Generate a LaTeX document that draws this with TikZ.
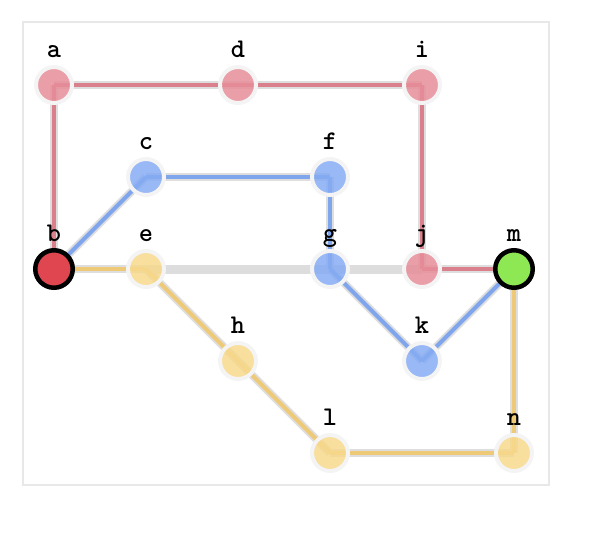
\documentclass[tikz,border=0pt]{standalone}
\usepackage{fontspec}
\definecolor{rednode}{HTML}{E68E99}
\definecolor{bluenode}{HTML}{86ACF4}
\definecolor{yellownode}{HTML}{F8D98C}
\definecolor{rededge}{HTML}{D9808C}
\definecolor{blueedge}{HTML}{7FA5EC}
\definecolor{yellowedge}{HTML}{EDC978}
\definecolor{grayedge}{HTML}{DDDDDD}
\definecolor{outl}{HTML}{D6D6D6}
\definecolor{ring}{HTML}{F4F4F4}
\definecolor{frame}{HTML}{E8E8E8}
\definecolor{bred}{HTML}{E0464F}
\definecolor{bgreen}{HTML}{8EE853}
\tikzset{
  vtx/.style={circle, minimum size=36pt, inner sep=0pt, draw=ring, line width=4pt},
  rv/.style={vtx, fill=rednode},
  bv/.style={vtx, fill=bluenode},
  yv/.style={vtx, fill=yellownode},
  endv/.style={circle, minimum size=37.5pt, inner sep=0pt, draw=black, line width=4.5pt},
  lab/.style={font=\ttfamily\bfseries\fontsize{27}{27}\selectfont, anchor=base},
  outline/.style={draw=outl, line width=8pt},
  redl/.style={draw=rededge, line width=4pt},
  bluel/.style={draw=blueedge, line width=4pt},
  yell/.style={draw=yellowedge, line width=4pt},
  grayl/.style={draw=grayedge, line width=9pt},
}
\begin{document}
\begin{tikzpicture}[x=1pt,y=-1pt]
\useasboundingbox (0,0) rectangle (612,552);
\draw[draw=frame, line width=1.5pt] (23,22) rectangle (549,485);
% coordinates
\coordinate (pa) at (54,85);
\coordinate (pd) at (238,85);
\coordinate (pi) at (422,85);
\coordinate (pc) at (146,177);
\coordinate (pf) at (330,177);
\coordinate (pb) at (54,269);
\coordinate (pe) at (146,269);
\coordinate (pg) at (330,269);
\coordinate (pj) at (422,269);
\coordinate (pm) at (514,269);
\coordinate (ph) at (238,361);
\coordinate (pk) at (422,361);
\coordinate (pl) at (330,453);
\coordinate (pn) at (514,453);
% gray edges
\draw[grayl] (pe) -- (pg);
\draw[grayl] (pg) -- (pj);
% outlines
\foreach \u/\v in {pa/pd,pd/pi,pa/pb,pi/pj,pj/pm,pb/pc,pc/pf,pf/pg,pg/pk,pk/pm,pb/pe,pe/ph,ph/pl,pl/pn,pn/pm}
  \draw[outline, opacity=0.8] (\u) -- (\v);
% colored
\foreach \u/\v in {pa/pd,pd/pi,pa/pb,pi/pj,pj/pm}
  \draw[redl] (\u) -- (\v);
\foreach \u/\v in {pb/pc,pc/pf,pf/pg,pg/pk,pk/pm}
  \draw[bluel] (\u) -- (\v);
\foreach \u/\v in {pb/pe,pe/ph,ph/pl,pl/pn,pn/pm}
  \draw[yell] (\u) -- (\v);
% nodes
\node[rv, fill opacity=0.85] (a) at (pa) {};
\node[rv, fill opacity=0.85] (d) at (pd) {};
\node[rv, fill opacity=0.85] (i) at (pi) {};
\node[rv, fill opacity=0.85] (j) at (pj) {};
\node[bv, fill opacity=0.85] (c) at (pc) {};
\node[bv, fill opacity=0.85] (f) at (pf) {};
\node[bv, fill opacity=0.85] (g) at (pg) {};
\node[bv, fill opacity=0.85] (k) at (pk) {};
\node[yv, fill opacity=0.85] (e) at (pe) {};
\node[yv, fill opacity=0.85] (h) at (ph) {};
\node[yv, fill opacity=0.85] (l) at (pl) {};
\node[yv, fill opacity=0.85] (n) at (pn) {};
\node[endv, fill=bred] (b) at (pb) {};
\node[endv, fill=bgreen] (m) at (pm) {};
% labels
\foreach \n/\t in {a/a,d/d,i/i,c/c,f/f,b/b,e/e,g/g,j/j,m/m,h/h,k/k,l/l,n/n}
  \node[lab] at ([yshift=27.5pt]\n.center) {\t};
\end{tikzpicture}
\end{document}
